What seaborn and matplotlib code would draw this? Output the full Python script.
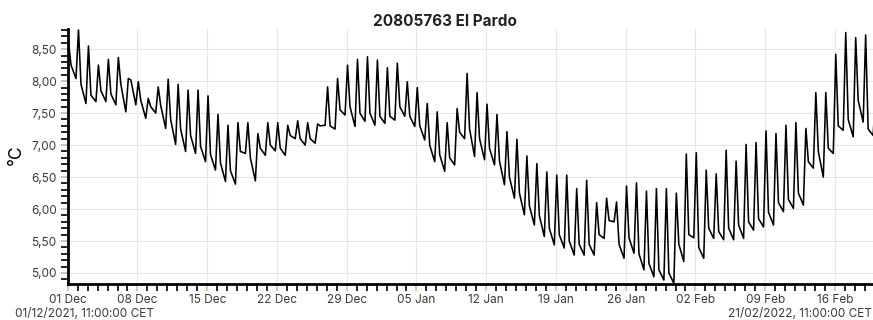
import numpy as np
import pandas as pd
import matplotlib
matplotlib.use("Agg")
import matplotlib.pyplot as plt
import matplotlib.dates as mdates
from matplotlib.ticker import FixedLocator, MultipleLocator, FuncFormatter
import seaborn as sns

# Configuration
TITLE = "20805763 El Pardo"
START_LABEL = "01/12/2021, 11:00:00 CET"
END_LABEL = "21/02/2022, 11:00:00 CET"
START = pd.Timestamp("2021-12-01 11:00")
FIRST_DAY = pd.Timestamp("2021-12-01")

# Hour of the day for the morning minimum, afternoon peak and evening shoulder
LOW_HOUR = 7
PEAK_HOUR = 13
EVE_HOUR = 19

# Daily readings (°C), one entry per day starting on 01 Dec 2021
DAY_LOW = [8.10, 8.04, 7.65, 7.68, 7.68, 7.63, 7.52, 7.63, 7.42, 7.50,
           7.26, 7.01, 6.90, 6.87, 6.74, 6.61, 6.43, 6.39, 6.87, 6.44,
           6.84, 6.91, 6.84, 7.10, 7.00, 7.03, 7.31, 7.25, 7.47, 7.29,
           7.37, 7.31, 7.34, 7.39, 7.45, 7.29, 7.08, 6.74, 6.59, 6.69,
           7.10, 6.82, 6.77, 6.69, 6.38, 6.17, 5.91, 5.75, 5.57, 5.44,
           5.39, 5.28, 5.28, 5.28, 5.54, 5.80, 5.23, 5.31, 5.05, 4.94,
           4.89, 4.84, 5.18, 5.55, 5.23, 5.54, 5.52, 5.52, 5.54, 5.67,
           5.72, 5.75, 5.96, 6.01, 6.06, 6.64, 6.50, 6.87, 7.23, 7.13,
           7.36, 7.15]
DAY_PEAK = [8.60, 8.80, 8.55, 8.25, 8.34, 8.37, 8.04, 7.99, 7.73, 7.91,
            8.03, 7.95, 7.86, 7.86, 7.77, 7.48, 7.31, 7.35, 7.35, 7.18,
            7.35, 7.35, 7.31, 7.38, 7.35, 7.33, 7.91, 8.04, 8.25, 8.34,
            8.38, 8.33, 8.21, 8.28, 7.99, 7.90, 7.65, 7.52, 7.35, 7.57,
            8.12, 7.82, 7.64, 7.48, 7.21, 7.09, 6.83, 6.71, 6.58, 6.53,
            6.53, 6.32, 6.45, 6.10, 6.17, 6.11, 6.36, 6.41, 6.28, 6.32,
            6.32, 6.25, 6.86, 6.88, 6.61, 6.55, 6.92, 6.75, 7.01, 7.04,
            7.22, 7.18, 7.31, 7.35, 7.26, 7.82, 7.82, 8.42, 8.76, 8.68,
            8.72, 7.80]
DAY_EVE = [8.25, 7.95, 7.78, 7.85, 7.80, 7.95, 8.02, 7.70, 7.60, 7.62,
           7.40, 7.25, 7.15, 6.98, 6.85, 6.72, 6.60, 6.90, 6.80, 6.95,
           7.00, 6.95, 7.15, 7.10, 7.10, 7.30, 7.30, 7.55, 7.60, 7.50,
           7.50, 7.45, 7.45, 7.60, 7.45, 7.30, 7.00, 6.85, 6.80, 7.20,
           7.25, 7.10, 6.95, 6.75, 6.50, 6.25, 6.05, 5.90, 5.70, 5.60,
           5.50, 5.45, 5.45, 5.60, 5.82, 5.45, 5.55, 5.30, 5.15, 5.05,
           5.00, 5.45, 5.60, 5.40, 5.70, 5.65, 5.70, 5.75, 5.80, 5.85,
           5.95, 6.10, 6.15, 6.25, 6.74, 6.90, 6.95, 7.30, 7.40, 7.70,
           7.25, 7.30]


def build_series():
    times, temps = [], []
    for d in range(len(DAY_LOW)):
        day = FIRST_DAY + pd.Timedelta(days=d)
        for hour, vals in ((LOW_HOUR, DAY_LOW), (PEAK_HOUR, DAY_PEAK), (EVE_HOUR, DAY_EVE)):
            times.append(day + pd.Timedelta(hours=hour))
            temps.append(vals[d])
    return pd.DataFrame({"time": times, "temp": temps})


def main():
    df = build_series()

    sns.set_style("white")
    plt.rcParams["font.family"] = ["Inter", "DejaVu Sans"]

    fig = plt.figure(figsize=(8.73, 3.2), dpi=100)
    ax = fig.add_axes([67.7 / 873, 1 - 284 / 320, 1 - 67.7 / 873, (284 - 29.3) / 320])

    sns.lineplot(data=df, x="time", y="temp", color="black", linewidth=1.15, ax=ax)

    # x axis: weekly labels, daily minor ticks
    end = START + pd.Timedelta(days=80.82)
    ax.set_xlim(START, end)
    major = pd.date_range(START, periods=12, freq="7D")
    minor = pd.date_range(START, periods=82, freq="1D")
    ax.xaxis.set_major_locator(FixedLocator(mdates.date2num(major)))
    ax.xaxis.set_minor_locator(FixedLocator(mdates.date2num(minor)))
    ax.xaxis.set_major_formatter(mdates.DateFormatter("%d %b"))

    # y axis
    ax.set_ylim(4.828, 8.81)
    ax.yaxis.set_major_locator(MultipleLocator(0.5))
    ax.yaxis.set_minor_locator(MultipleLocator(0.1))
    ax.yaxis.set_major_formatter(FuncFormatter(lambda v, p: f"{v:.2f}".replace(".", ",")))

    ax.grid(True, which="major", color="#e6e6e6", linewidth=0.8)
    ax.set_xlabel("")
    ax.set_ylabel("")

    for side in ("top", "right"):
        ax.spines[side].set_visible(False)
    for side in ("left", "bottom"):
        ax.spines[side].set_color("black")
        ax.spines[side].set_linewidth(2)

    ax.tick_params(axis="both", which="both", direction="out", length=5, width=1.2,
                   left=True, bottom=True, labelsize=8.5, labelcolor="#3a3a3a")
    ax.tick_params(axis="x", which="major", color="#a9d49f", pad=2)
    ax.tick_params(axis="y", which="major", color="#bbbbbb", pad=3)
    ax.tick_params(axis="both", which="minor", color="black")

    fig.text(445 / 873, 1 - 21 / 320, TITLE, ha="center", va="center",
             fontsize=11, fontweight="bold", color="#222222")
    fig.text(16 / 873, 1 - 155 / 320, "°C", ha="center", va="center",
             rotation=90, fontsize=12.5, color="black")
    fig.text(15 / 873, 1 - 314 / 320, START_LABEL, ha="left", va="center",
             fontsize=8.5, color="#3a3a3a")
    fig.text(0.999, 1 - 314 / 320, END_LABEL, ha="right", va="center",
             fontsize=8.5, color="#3a3a3a")

    fig.savefig("out.png", dpi=100)
    plt.close(fig)


if __name__ == "__main__":
    main()
